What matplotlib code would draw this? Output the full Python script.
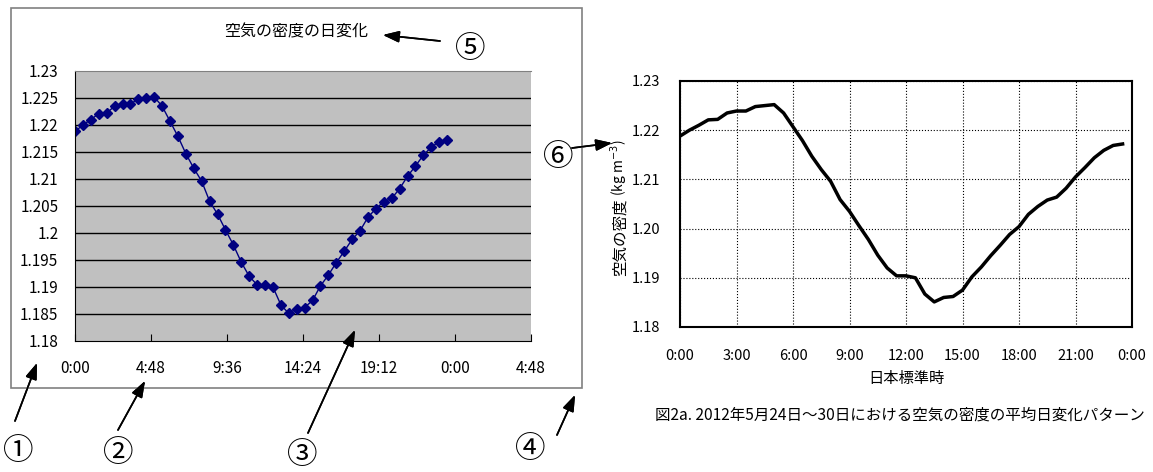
import numpy as np
import matplotlib
matplotlib.use("Agg")
import matplotlib.pyplot as plt
from matplotlib.patches import Rectangle
from matplotlib.ticker import FixedLocator, FixedFormatter

plt.rcParams['font.family'] = ['Noto Sans CJK JP', 'DejaVu Sans']

# 30分ごとの平均空気密度 (kg m^-3)
hours = np.arange(0, 24, 0.5)
density = [1.2188, 1.2200, 1.2210, 1.2221, 1.2222, 1.2235, 1.2239, 1.2239,
           1.2248, 1.2250, 1.2252, 1.2235, 1.2207, 1.2179, 1.2147, 1.2120,
           1.2096, 1.2059, 1.2035, 1.2006, 1.1978, 1.1946, 1.1920, 1.1904,
           1.1904, 1.1900, 1.1867, 1.1851, 1.1860, 1.1862, 1.1875, 1.1902,
           1.1922, 1.1945, 1.1966, 1.1988, 1.2004, 1.2029, 1.2045, 1.2058,
           1.2064, 1.2082, 1.2105, 1.2124, 1.2144, 1.2159, 1.2169, 1.2172]

left_xticks = [0, 4.8, 9.6, 14.4, 19.2, 24.0, 28.8]
left_xlabels = ["0:00", "4:48", "9:36", "14:24", "19:12", "0:00", "4:48"]
left_yticks = [1.18, 1.185, 1.19, 1.195, 1.2, 1.205, 1.21, 1.215, 1.22, 1.225, 1.23]
left_ylabels = ["1.18", "1.185", "1.19", "1.195", "1.2", "1.205", "1.21", "1.215", "1.22", "1.225", "1.23"]

right_xticks = [0, 3, 6, 9, 12, 15, 18, 21, 24]
right_xlabels = ["0:00", "3:00", "6:00", "9:00", "12:00", "15:00", "18:00", "21:00", "0:00"]
right_yticks = [1.18, 1.19, 1.20, 1.21, 1.22, 1.23]

W, H = 1153, 472


def fp(x, y):
    # ピクセル座標 (左上原点) -> figure fraction
    return (x / W, 1 - y / H)


fig = plt.figure(figsize=(W / 100, H / 100), dpi=100)

# ---- 左: Excel風グラフ ----
fig.add_artist(Rectangle(fp(11, 388), 571 / W, 380 / H, transform=fig.transFigure,
                         fill=False, edgecolor='#808080', lw=1.2))

ax1 = fig.add_axes([75 / W, 1 - 341 / H, 456 / W, 270 / H])
ax1.set_facecolor('#c0c0c0')
for y in left_yticks[1:-1]:
    ax1.axhline(y, color='black', lw=1)
ax1.plot(hours, density, color='#000080', lw=1, marker='D', markersize=5,
         markerfacecolor='#000080', markeredgecolor='#000080')
ax1.set_xlim(0, 28.8)
ax1.set_ylim(1.18, 1.23)
ax1.xaxis.set_major_locator(FixedLocator(left_xticks))
ax1.xaxis.set_major_formatter(FixedFormatter(left_xlabels))
ax1.yaxis.set_major_locator(FixedLocator(left_yticks))
ax1.yaxis.set_major_formatter(FixedFormatter(left_ylabels))
ax1.tick_params(axis='x', direction='in', length=5, pad=14, labelsize=11)
ax1.tick_params(axis='y', length=0, pad=12, labelsize=11)
ax1.spines['right'].set_visible(False)
ax1.spines['top'].set_color('#808080')
ax1.spines['left'].set_color('black')
ax1.spines['bottom'].set_color('black')

fig.text(*fp(296, 32), "空気の密度の日変化", ha='center', va='center', fontsize=11.5)

arrow = dict(arrowstyle='-|>,head_length=0.7,head_width=0.25', color='black', lw=1.2,
             mutation_scale=14, shrinkA=0, shrinkB=0)
circ = [("⑤", 470, 49), ("①", 18, 452), ("②", 118, 454), ("③", 302, 455), ("④", 530, 450), ("⑥", 558, 158)]
for s, x, y in circ:
    fig.text(*fp(x, y), s, ha='center', va='center', fontsize=22)

arrows = [((440, 41), (383, 35)), ((15, 421), (37, 363)), ((118, 430), (145, 381)),
          ((308, 433), (355, 330)), ((557, 435), (575, 395)), ((572, 148), (612, 143))]
for start, end in arrows:
    fig.add_artist(plt.annotate("", xy=fp(*end), xytext=fp(*start),
                                xycoords='figure fraction', textcoords='figure fraction',
                                arrowprops=arrow))

# ---- 右: 論文の図 ----
ax2 = fig.add_axes([680 / W, 1 - 327 / H, 452 / W, 246 / H])
ax2.plot(hours, density, color='black', lw=2.5)
ax2.set_xlim(0, 24)
ax2.set_ylim(1.18, 1.23)
ax2.set_xticks(right_xticks)
ax2.set_xticklabels(right_xlabels)
ax2.set_yticks(right_yticks)
ax2.set_yticklabels(["%.2f" % v for v in right_yticks])
ax2.grid(True, color='black', linestyle=':', lw=0.8)
ax2.tick_params(length=0, labelsize=10.5)
ax2.tick_params(axis='x', pad=16)
ax2.tick_params(axis='y', pad=14)
for sp in ax2.spines.values():
    sp.set_linewidth(1.5)

fig.text(*fp(620, 276), "空気の密度", rotation=90, ha='center', va='bottom', fontsize=11.2)
fig.text(*fp(619, 196), "(kg m$^{-3}$)", rotation=90, ha='center', va='bottom', fontsize=10)
fig.text(*fp(906, 378), "日本標準時", ha='center', va='center', fontsize=11)
fig.text(*fp(655, 415), "図2a. 2012年5月24日～30日における空気の密度の平均日変化パターン",
         ha='left', va='center', fontsize=11.2)

fig.savefig("out.png", dpi=100)
